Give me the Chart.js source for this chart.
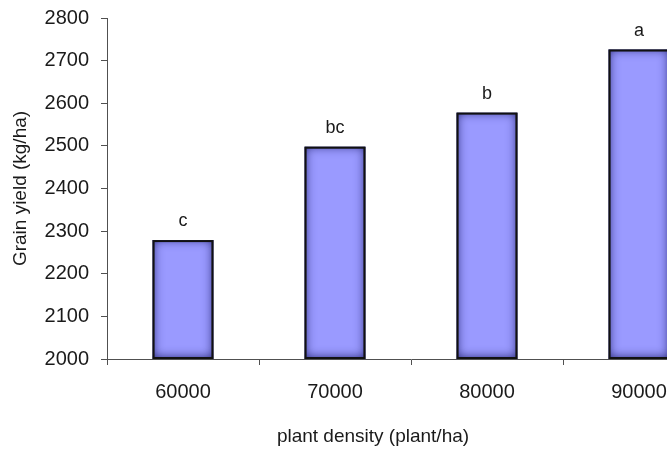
<!DOCTYPE html>
<html lang="en">
<head>
  <meta charset="UTF-8">
  <title>Grain yield vs plant density</title>
  <script src="https://cdn.jsdelivr.net/npm/chart.js"></script>
  <style>
    html, body {
      margin: 0;
      padding: 0;
      background: #ffffff;
      overflow: hidden;
    }
    .chart-container {
      position: relative;
      width: 720px;
      height: 450px;
    }
  </style>
</head>
<body>
  <div class="chart-container"><canvas id="yieldChart"></canvas></div>

  <script>
    const densities = ["60000", "70000", "80000", "90000"];
    const grainYield = [2279, 2498, 2578, 2726];
    const groupLetters = ["c", "bc", "b", "a"];
    const yTicks = [2000, 2100, 2200, 2300, 2400, 2500, 2600, 2700, 2800];

    const FONT = "'Liberation Sans', Arial, sans-serif";
    const TEXT = "#1a1a1a";

    // inner shading of the bars + letters above them
    const barDecor = {
      id: "barDecor",
      afterDatasetsDraw(chart) {
        const ctx = chart.ctx;
        const area = chart.chartArea;
        const meta = chart.getDatasetMeta(0);
        meta.data.forEach((bar, i) => {
          const p = bar.getProps(["x", "y", "base", "width"], true);
          const left = p.x - p.width / 2;
          const top = p.y;
          const bottom = Math.min(p.base, area.bottom);
          const w = p.width;
          const h = bottom - top;

          ctx.save();
          ctx.beginPath();
          ctx.rect(left, top, w, h);
          ctx.clip();
          ctx.beginPath();
          ctx.rect(left - 40, top - 40, w + 80, h + 80);
          ctx.rect(left, top, w, h);
          ctx.shadowColor = "rgba(25, 25, 100, 1)";
          ctx.shadowBlur = 11;
          ctx.shadowOffsetX = 0;
          ctx.shadowOffsetY = -1;
          ctx.fillStyle = "#000";
          ctx.fill("evenodd");
          ctx.restore();

          ctx.save();
          ctx.strokeStyle = "#111111";
          ctx.lineWidth = 2;
          ctx.strokeRect(left + 1, top + 1, w - 2, h - 2);
          ctx.restore();

          ctx.save();
          ctx.font = "18px " + FONT;
          ctx.fillStyle = TEXT;
          ctx.textAlign = "center";
          ctx.textBaseline = "alphabetic";
          ctx.fillText(groupLetters[i], p.x, top - 14);
          ctx.restore();
        });
      }
    };

    // x axis title (Excel puts it a little left of the plot centre)
    const xTitle = {
      id: "xTitle",
      afterDraw(chart) {
        const ctx = chart.ctx;
        ctx.save();
        ctx.font = "19px " + FONT;
        ctx.fillStyle = TEXT;
        ctx.textAlign = "center";
        ctx.textBaseline = "middle";
        ctx.fillText("plant density (plant/ha)", 373, 437);
        ctx.restore();
      }
    };

    const ctx = document.getElementById("yieldChart").getContext("2d");
    new Chart(ctx, {
      type: "bar",
      data: {
        labels: densities,
        datasets: [{
          label: "Grain yield",
          data: grainYield,
          backgroundColor: "#9a9aff",
          borderWidth: 0,
          barPercentage: 0.8,
          categoryPercentage: 0.5
        }]
      },
      plugins: [barDecor, xTitle],
      options: {
        responsive: true,
        maintainAspectRatio: false,
        animation: false,
        layout: { padding: { top: 18, right: 5, bottom: 0, left: 0 } },
        plugins: {
          legend: { display: false },
          tooltip: { enabled: false }
        },
        scales: {
          x: {
            offset: true,
            grid: {
              offset: true,
              drawOnChartArea: false,
              drawTicks: true,
              tickLength: 6,
              color: "#505050"
            },
            border: { color: "#505050", width: 1 },
            ticks: {
              color: TEXT,
              font: { family: FONT, size: 20 },
              padding: 15,
              maxRotation: 0
            },
            afterFit(scale) {
              scale.height = 91;
              scale.paddingLeft = 0;
              scale.paddingRight = 0;
            }
          },
          y: {
            min: yTicks[0],
            max: yTicks[yTicks.length - 1],
            afterBuildTicks(scale) {
              scale.ticks = yTicks.map(v => ({ value: v }));
            },
            grid: {
              drawOnChartArea: false,
              drawTicks: true,
              tickLength: 6,
              color: "#505050"
            },
            border: { color: "#505050", width: 1 },
            ticks: {
              color: TEXT,
              font: { family: FONT, size: 20 },
              padding: 12,
              callback: v => String(v)
            },
            title: {
              display: true,
              text: "Grain yield (kg/ha)",
              color: TEXT,
              font: { family: FONT, size: 19 },
              padding: { top: 9, bottom: 0 }
            },
            afterFit(scale) {
              scale.width = 107;
              scale.paddingTop = 0;
              scale.paddingBottom = 0;
            }
          }
        }
      }
    });
  </script>
</body>
</html>
